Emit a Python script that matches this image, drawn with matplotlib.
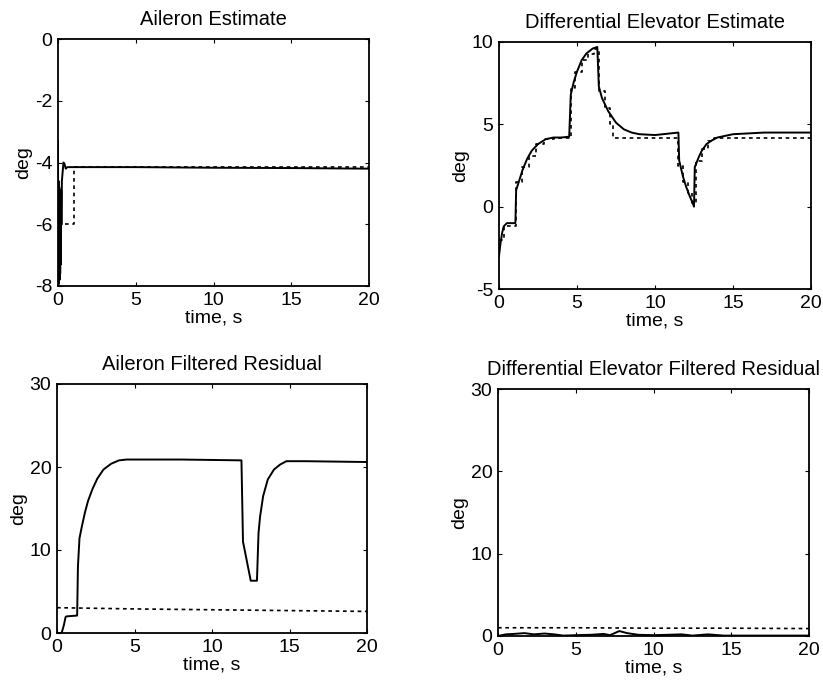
import matplotlib
matplotlib.use("Agg")
import matplotlib.pyplot as plt

plt.rcParams['font.family'] = ['Liberation Sans', 'DejaVu Sans']
plt.rcParams['axes.unicode_minus'] = False

# ---------------- data ----------------
ail_est_t = [0, 0.02, 0.04, 0.06, 0.08, 0.10, 0.12, 0.14, 0.16, 0.18, 0.20, 0.22,
             0.25, 0.30, 0.35, 0.42, 0.50, 0.60, 0.80, 1.0, 5, 10, 15, 20]
ail_est_y = [-3.3, -8.0, -4.6, -7.9, -4.8, -7.8, -5.0, -7.6, -5.2, -7.3, -4.9, -6.0,
             -4.6, -4.3, -4.0, -4.05, -4.2, -4.15, -4.15, -4.15, -4.15, -4.17, -4.18, -4.2]
ail_ref_t = [0.45, 1.0, 1.0, 20]
ail_ref_y = [-6.0, -6.0, -4.15, -4.15]

de_est_t = [0, 0.1, 0.2, 0.3, 0.5, 0.7, 1.05, 1.1, 1.3, 1.5, 1.8, 2.1, 2.5, 3.0, 3.5,
            4.0, 4.5, 4.6, 4.8, 5.0, 5.3, 5.6, 6.0, 6.3, 6.4, 6.6, 7.0, 7.5, 8.0, 8.5,
            9.0, 10, 11, 11.5, 11.55, 11.8, 12.0, 12.2, 12.4, 12.5, 12.55, 12.8, 13.0,
            13.3, 13.6, 14.0, 14.5, 15, 16, 17, 18, 20]
de_est_y = [-3.0, -2.2, -1.6, -1.2, -1.0, -1.0, -1.0, 1.0, 1.6, 2.2, 2.9, 3.4, 3.8,
            4.1, 4.2, 4.2, 4.25, 6.8, 7.6, 8.2, 8.9, 9.3, 9.6, 9.7, 7.3, 6.6, 5.8, 5.1,
            4.7, 4.5, 4.4, 4.35, 4.45, 4.5, 2.8, 1.8, 1.2, 0.7, 0.25, 0.0, 2.4, 3.0,
            3.4, 3.8, 4.0, 4.2, 4.3, 4.4, 4.45, 4.5, 4.5, 4.5]
de_ref_t = [0, 0.3, 1.1, 1.5, 1.9, 2.4, 2.9, 3.5, 4.6, 4.9, 5.3, 5.7, 6.1, 6.4, 6.8,
            7.1, 7.3, 11.5, 11.8, 12.1, 12.4, 12.6, 13.0, 13.4, 13.8, 20]
de_ref_y = [-2.0, -1.2, 1.5, 2.4, 3.1, 3.8, 4.1, 4.2, 7.2, 8.2, 8.9, 9.3, 9.6, 7.0,
            6.0, 5.0, 4.15, 2.5, 1.5, 0.8, 0.2, 2.8, 3.5, 4.0, 4.15, 4.15]

ail_res_t = [0, 0.3, 0.45, 0.55, 0.6, 1.3, 1.35, 1.45, 1.6, 1.8, 2.0, 2.3, 2.6, 3.0,
             3.5, 4.0, 4.5, 5, 8, 11.9, 12.0, 12.5, 12.9, 13.0, 13.1, 13.3, 13.6, 14.0,
             14.4, 14.8, 16, 20]
ail_res_y = [0, 0, 1.0, 1.9, 2.0, 2.1, 8.0, 11.4, 12.8, 14.5, 15.9, 17.4, 18.6, 19.7,
             20.4, 20.8, 20.9, 20.9, 20.9, 20.8, 11.0, 6.3, 6.3, 12.0, 14.0, 16.5, 18.5,
             19.7, 20.3, 20.7, 20.7, 20.6]
ail_thr_t = [0, 5, 10, 15, 20]
ail_thr_y = [3.05, 2.9, 2.8, 2.7, 2.6]

de_res_t = [0, 0.5, 1.0, 1.7, 2.3, 3.0, 3.6, 4.2, 5.0, 6.0, 6.8, 7.2, 7.8, 8.3, 9.0,
            10, 11, 11.8, 12.5, 13.5, 14.5, 16, 18, 20]
de_res_y = [0, 0.2, 0.25, 0.35, 0.2, 0.3, 0.2, 0.05, 0.1, 0.15, 0.25, 0.1, 0.6, 0.35,
            0.15, 0.1, 0.15, 0.2, 0.05, 0.2, 0.05, 0.05, 0.05, 0.05]
de_thr_t = [0, 5, 10, 15, 20]
de_thr_y = [1.0, 1.0, 0.95, 0.95, 0.9]

x_ticks = [0, 5, 10, 15, 20]

# ---------------- figure ----------------
W, H = 823, 687
fig = plt.figure(figsize=(W / 100, H / 100), dpi=100)


def make_ax(l, r, t, b):
    return fig.add_axes([l / W, (H - b) / H, (r - l) / W, (b - t) / H])


axes_px = [(58, 369, 39, 286), (499, 811, 42, 289),
           (57, 367, 384, 633), (498, 809, 389, 636)]
titles = ["Aileron Estimate", "Differential Elevator Estimate",
          "Aileron Filtered Residual", "Differential Elevator Filtered Residual"]
ylims = [(-8, 0), (-5, 10), (0, 30), (0, 30)]
yticks = [[-8, -6, -4, -2, 0], [-5, 0, 5, 10], [0, 10, 20, 30], [0, 10, 20, 30]]

solid = [(ail_est_t, ail_est_y), (de_est_t, de_est_y),
         (ail_res_t, ail_res_y), (de_res_t, de_res_y)]
dashed = [(ail_ref_t, ail_ref_y, 'default'), (de_ref_t, de_ref_y, 'steps-post'),
          (ail_thr_t, ail_thr_y, 'default'), (de_thr_t, de_thr_y, 'default')]

for i in range(4):
    ax = make_ax(*axes_px[i])
    st, sy = solid[i]
    dt, dy, ds = dashed[i]
    ax.plot(dt, dy, color='black', lw=1.2, linestyle=(0, (2.2, 2.2)), drawstyle=ds)
    ax.plot(st, sy, color='black', lw=1.4)
    ax.set_xlim(0, 20)
    ax.set_ylim(*ylims[i])
    ax.set_xticks(x_ticks)
    ax.set_yticks(yticks[i])
    ax.tick_params(direction='in', length=3, width=0.8, top=True, right=True,
                   labelsize=14, pad=4)
    for sp in ax.spines.values():
        sp.set_linewidth(1.3)
    ax.set_title(titles[i], fontsize=14.5, pad=10)
    ax.set_xlabel("time, s", fontsize=14, labelpad=1)
    ax.set_ylabel("deg", fontsize=14, labelpad=2)

fig.savefig("out.png", dpi=100)
